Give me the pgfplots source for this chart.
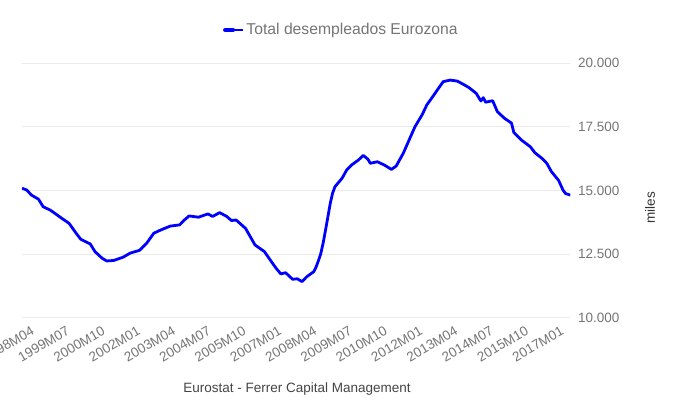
\documentclass[border=0pt]{standalone}
\usepackage{fontspec}
\setmainfont{Liberation Sans}
\usepackage{pgfplots}
\pgfplotsset{compat=1.18}
\definecolor{tickgray}{HTML}{757575}
\definecolor{capgray}{HTML}{444444}
\definecolor{labgray}{HTML}{333333}
\definecolor{gridgray}{HTML}{EBEBEB}
\definecolor{serblue}{HTML}{0000FF}
\begin{document}
\begin{tikzpicture}
\path[use as bounding box] (-22bp,-102.3bp) rectangle (658bp,317.7bp);
\begin{axis}[
  at={(0,0)}, anchor=south west,
  scale only axis, width=548.3bp, height=254.4bp,
  xmin=0, xmax=233, ymin=10000, ymax=20000,
  scaled y ticks=false,
  ytick={10000,12500,15000,17500,20000},
  yticklabels={10.000,12.500,15.000,17.500,20.000},
  yticklabel pos=right,
  ymajorgrids, grid style={gridgray, line width=1bp},
  axis line style={draw=none},
  major tick length=0pt,
  xtick={0,15,...,225},
  xticklabels={1998M04,1999M07,2000M10,2002M01,2003M04,2004M07,2005M10,2007M01,2008M04,2009M07,2010M10,2012M01,2013M04,2014M07,2015M10,2017M01},
  ticklabel style={font=\fontsize{13.5bp}{16bp}\selectfont, text=tickgray},
  yticklabel style={anchor=west, inner sep=0pt, xshift=7.5bp},
  xticklabel style={rotate=30, anchor=north east, inner sep=0pt, xshift=3.5bp, yshift=-11bp},
  legend style={at={(0.5825,1.131)}, anchor=center, draw=none, fill=none,
    font=\fontsize{15.7bp}{18bp}\selectfont, text=tickgray},
  legend image code/.code={\draw[#1, line width=4.5bp, line cap=round] (0bp,0bp) -- (7.5bp,0bp); \path (0bp,0bp) -- (17.75bp,0bp);},
]
\addplot[serblue, line width=2.8bp, line join=round, mark=none] coordinates {
(0,15090) (2,15020) (4,14820) (7,14660) (9,14360) (12,14230) (14,14100) (17,13900)
(20,13710) (23,13320) (25,13080) (29,12900) (31,12600) (34,12340) (36,12230) (39,12250)
(43,12380) (46,12540) (50,12650) (53,12930) (56,13320) (59,13450) (63,13600) (67,13650)
(69,13840) (71,14000) (75,13950) (79,14080) (81,13980) (84,14130) (87,13980) (89,13820)
(91,13840) (95,13510) (99,12860) (103,12600) (106,12200) (108,11940) (110,11720) (112,11770)
(115,11510) (117,11530) (119,11420) (121,11610) (124,11810) (125,12000) (126,12250) (127,12530)
(128,12950) (129,13450) (130,13970) (131,14500) (132,14900) (133,15150) (136,15480) (138,15810)
(140,16000) (143,16200) (145,16380) (147,16230) (148,16070) (151,16130) (154,16000) (157,15830)
(159,15960) (162,16460) (165,17090) (167,17510) (170,17970) (172,18360) (175,18750) (177,19020)
(179,19280) (182,19340) (185,19300) (188,19150) (190,19040) (193,18820) (195,18520) (196,18650)
(197,18470) (200,18530) (202,18100) (205,17840) (208,17650) (209,17280) (212,17000) (216,16720)
(218,16480) (221,16260) (223,16070) (225,15740) (228,15400) (230,15000) (231,14880) (233,14820)
};
\addlegendentry{Total desempleados Eurozona}
\end{axis}
\node[font=\fontsize{13.5bp}{16bp}\selectfont, text=capgray] at (275bp,-71.3bp) {Eurostat - Ferrer Capital Management};
\node[rotate=90, font=\fontsize{13.5bp}{16bp}\selectfont, text=labgray] at (628bp,110.2bp) {miles};
\end{tikzpicture}
\end{document}
